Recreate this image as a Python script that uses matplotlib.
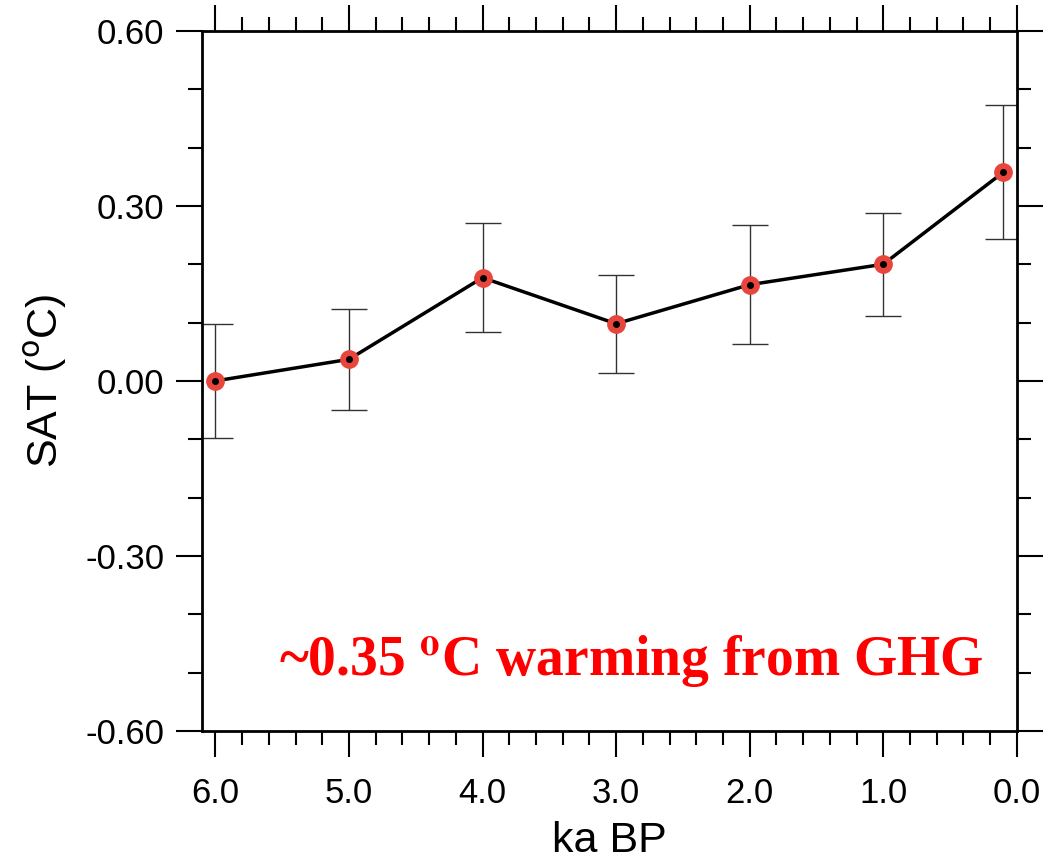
import matplotlib.pyplot as plt
from matplotlib.ticker import MultipleLocator, FormatStrFormatter

# data
ka_bp = [6.0, 5.0, 4.0, 3.0, 2.0, 1.0, 0.1]
sat = [0.0, 0.037, 0.177, 0.098, 0.165, 0.200, 0.358]
err_hi = [0.098, 0.124, 0.270, 0.182, 0.268, 0.287, 0.473]
err_lo = [-0.098, -0.050, 0.083, 0.014, 0.064, 0.112, 0.243]

yerr = [[s - lo for s, lo in zip(sat, err_lo)], [hi - s for s, hi in zip(sat, err_hi)]]

plt.rcParams['font.family'] = ['Liberation Sans', 'DejaVu Sans']

fig = plt.figure(figsize=(10.44, 8.66), dpi=100)
ax = fig.add_axes([0.1935, 0.156, 0.7805, 0.8083])

ax.errorbar(ka_bp, sat, yerr=yerr, fmt='none', ecolor='#333333', elinewidth=1.0,
            capsize=13, capthick=1.0, zorder=2)
ax.plot(ka_bp, sat, color='black', lw=2.5, zorder=3)
ax.plot(ka_bp, sat, 'o', ms=13.5, color='#e8453c', mec='none', zorder=4)
ax.plot(ka_bp, sat, 'o', ms=4, color='black', zorder=5)

ax.set_xlim(6.1, 0.0)
ax.set_ylim(-0.6, 0.6)
ax.xaxis.set_major_locator(MultipleLocator(1.0))
ax.xaxis.set_minor_locator(MultipleLocator(0.2))
ax.yaxis.set_major_locator(MultipleLocator(0.3))
ax.yaxis.set_minor_locator(MultipleLocator(0.1))
ax.xaxis.set_major_formatter(FormatStrFormatter('%.1f'))
ax.yaxis.set_major_formatter(FormatStrFormatter('%.2f'))

ax.tick_params(which='both', direction='out', top=True, right=True, width=1.5)
ax.tick_params(which='major', length=19, labelsize=25, pad=8)
ax.tick_params(which='minor', length=10)
ax.tick_params(axis='x', which='major', pad=14)
for s in ax.spines.values():
    s.set_linewidth(2)

ax.set_xlabel('ka BP', fontsize=31, labelpad=8)
ax.set_ylabel(r'SAT ($^{\rm o}$C)', fontsize=31, labelpad=12)

ax.text(0.095, 0.08, r'~0.35 $^{\mathbf{o}}$C warming from GHG', transform=ax.transAxes,
        color='red', fontsize=40, fontweight='bold', family='Liberation Serif',
        math_fontfamily='stix')

fig.savefig('out.png', dpi=100)
